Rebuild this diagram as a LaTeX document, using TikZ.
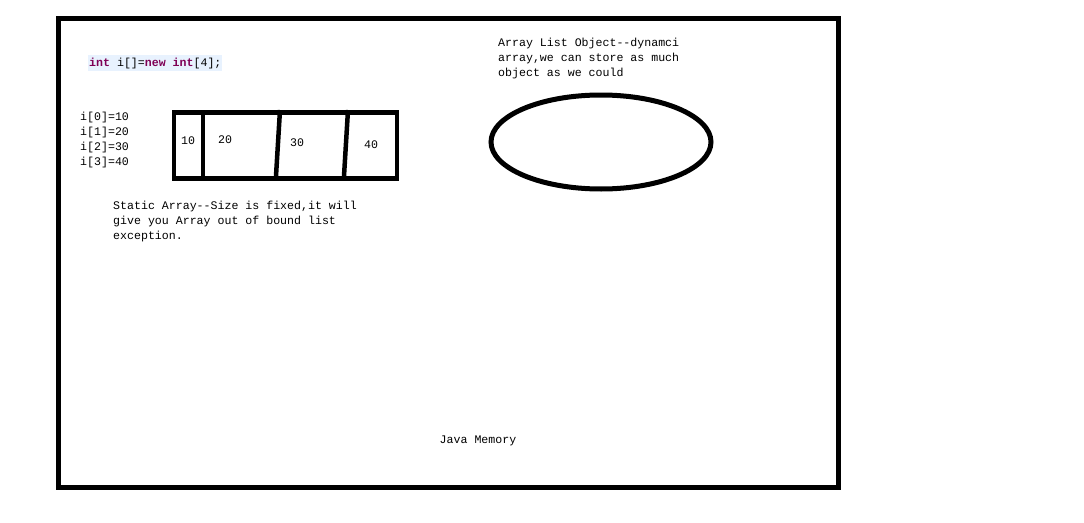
\documentclass[tikz,border=0pt]{standalone}
\usepackage{fontspec}
\setmonofont{Liberation Mono}
\definecolor{kw}{HTML}{7F0055}
\definecolor{codebg}{HTML}{E8F2FE}
\begin{document}
\begin{tikzpicture}[x=1pt,y=-1pt,
  txt/.style={font=\ttfamily\fontsize{11.6}{15}\selectfont, inner sep=0pt, anchor=west, align=left},
  thick line/.style={line width=4.5pt, black}]
\useasboundingbox (0,0) rectangle (1084,522);
% outer memory frame
\draw[thick line, line width=5pt] (58,18) rectangle (838,487);
% code line
\fill[codebg] (88,55) rectangle (222,71);
\node[txt] (code) at (89,63.5) {{\bfseries\color{kw}int} i[]={\bfseries\color{kw}new} {\bfseries\color{kw}int}[4];};
% index list
\node[txt, anchor=north west] (idx) at (80,112) {i[0]=10\\i[1]=20\\i[2]=30\\i[3]=40};
% array box
\node[draw, thick line, minimum width=223pt, minimum height=66pt, inner sep=0pt, anchor=north west] (arr) at (171.5,110) {};
\draw[thick line] (203,110) -- (203,176);
\draw[thick line] (280,110) -- (276,176);
\draw[thick line] (348,110) -- (344,176);
\node[txt] (v10) at (181,141) {10};
\node[txt] (v20) at (218,140) {20};
\node[txt] (v30) at (290,143) {30};
\node[txt] (v40) at (364,145) {40};
% static text
\node[txt, anchor=north west] (static) at (113,201) {Static Array--Size is fixed,it will\\give you Array out of bound list\\exception.};
% array list text
\node[txt, anchor=north west] (alist) at (498,38) {Array List Object--dynamci\\array,we can store as much\\object as we could};
% ellipse
\draw[thick line, line width=5pt] (601,142) ellipse [x radius=110, y radius=47];
% java memory
\node[txt, anchor=center] (jm) at (478,441) {Java Memory};
\end{tikzpicture}
\end{document}
